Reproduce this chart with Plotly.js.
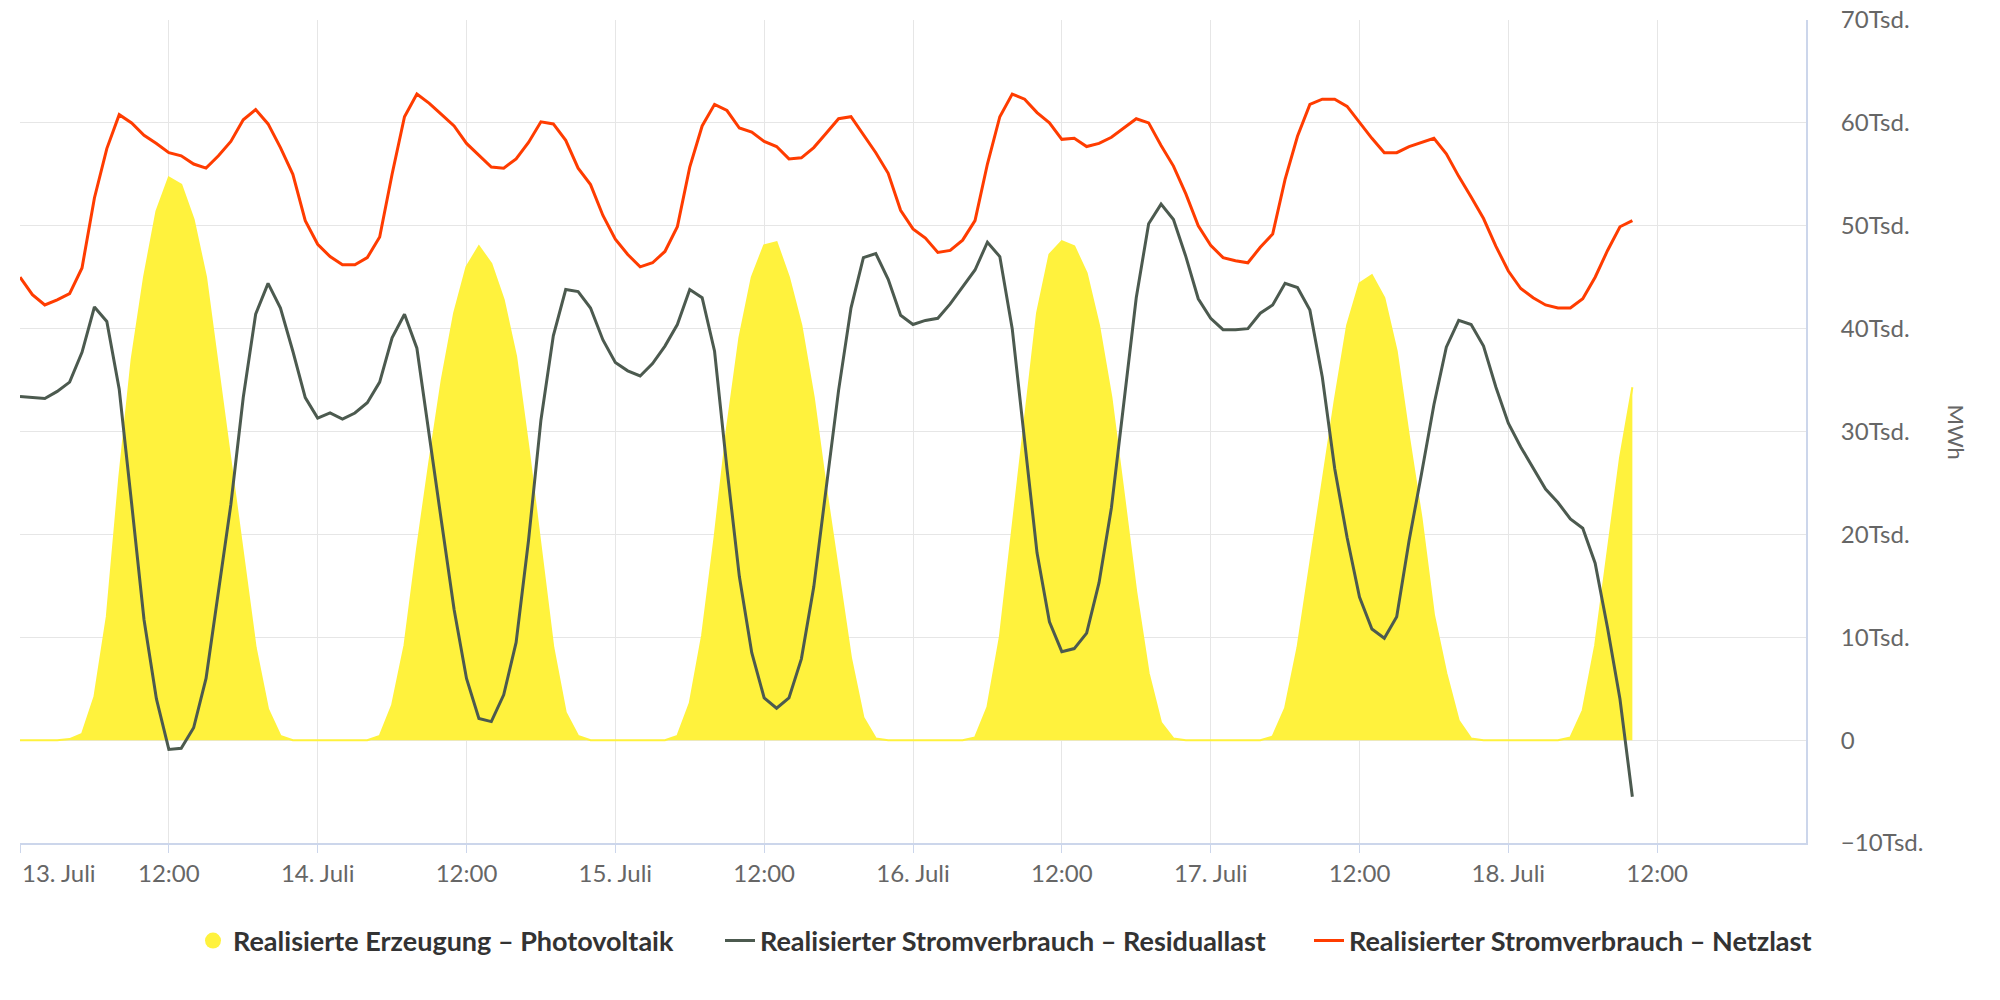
<!DOCTYPE html>
<html>
<head>
<meta charset="utf-8">
<script src="https://cdn.plot.ly/plotly-3.0.1.min.js"></script>
<style>
  html, body { margin: 0; padding: 0; background: white; }
  #chart { width: 2000px; height: 1000px; }
</style>
</head>
<body>
<div id="chart"></div>
<script>
// hourly values in MWh, 13. Juli 00:00 to 18. Juli 10:00
const startDay = 13;

const photovoltaik = [
  0, 0, 0, 0, 100, 600, 4200, 12000, 25500, 37000, 45000, 51400, 54700, 54000, 50600, 45000, 36000, 27000, 17500, 9000, 3000, 400, 0, 0,
  0, 0, 0, 0, 0, 400, 3400, 9200, 18500, 27000, 35000, 41500, 46000, 48000, 46300, 42800, 37300, 28400, 18400, 9000, 2700, 400, 0, 0,
  0, 0, 0, 0, 0, 400, 3600, 10200, 19700, 30300, 39100, 45000, 48100, 48400, 45000, 40300, 33300, 24400, 16400, 8000, 2200, 150, 0, 0,
  0, 0, 0, 0, 0, 250, 3200, 10000, 20500, 31300, 41500, 47200, 48500, 48000, 45400, 40300, 33300, 23900, 14400, 6500, 1700, 150, 0, 0,
  0, 0, 0, 0, 0, 350, 3100, 9000, 16900, 24900, 33000, 40300, 44400, 45200, 43000, 37800, 29400, 21600, 12200, 6500, 1900, 150, 0, 0,
  0, 0, 0, 0, 0, 250, 2900, 9200, 18400, 27400, 34300
];

const residuallast = [
  33400, 33300, 33200, 33900, 34800, 37700, 42100, 40700, 34100, 23000, 11700, 4000, -900, -800, 1200, 6000, 14400, 22900, 33300, 41400, 44400, 42000, 37800, 33300,
  31300, 31800, 31200, 31800, 32800, 34800, 39100, 41400, 38100, 29400, 21100, 12700, 6000, 2100, 1800, 4400, 9500, 19400, 31100, 39300, 43800, 43600, 42000, 38900,
  36700, 35900, 35400, 36600, 38300, 40400, 43800, 43000, 37800, 26400, 15900, 8500, 4100, 3100, 4100, 7900, 14900, 24500, 34000, 42000, 46900, 47300, 44800, 41300,
  40400, 40800, 41000, 42400, 44000, 45700, 48400, 47000, 40000, 29000, 18200, 11500, 8600, 8900, 10400, 15300, 22600, 32800, 43000, 50200, 52100, 50600, 47000, 42900,
  41000, 39900, 39900, 40000, 41500, 42300, 44400, 44000, 41800, 35300, 26400, 19700, 13900, 10800, 9900, 12000, 19400, 25900, 32600, 38200, 40800, 40400, 38300, 34300,
  30800, 28500, 26500, 24400, 23100, 21500, 20600, 17200, 10900, 4000, -5500
];

const netzlast = [
  45000, 43300, 42300, 42800, 43400, 45900, 52700, 57500, 60800, 60000, 58800, 58000, 57100, 56800, 56000, 55600, 56800, 58200, 60300, 61300, 59900, 57600, 55000, 50500,
  48200, 47000, 46200, 46200, 46900, 48900, 55000, 60600, 62800, 61900, 60800, 59700, 58000, 56800, 55700, 55600, 56500, 58100, 60100, 59900, 58300, 55600, 54000, 51000,
  48700, 47200, 46000, 46400, 47500, 49900, 55700, 59700, 61800, 61200, 59500, 59100, 58200, 57700, 56500, 56600, 57600, 59000, 60400, 60600, 58800, 57100, 55100, 51500,
  49700, 48800, 47400, 47600, 48600, 50500, 56000, 60600, 62800, 62300, 61000, 60000, 58400, 58500, 57700, 58000, 58600, 59500, 60400, 60000, 57800, 55800, 53100, 50000,
  48100, 46900, 46600, 46400, 47900, 49200, 54500, 58700, 61800, 62300, 62300, 61600, 60000, 58500, 57100, 57100, 57700, 58100, 58500, 57000, 54800, 52800, 50700, 48000,
  45600, 43900, 43000, 42300, 42000, 42000, 42900, 45000, 47600, 49900, 50500
];

const seriesNames = [
  'Realisierte Erzeugung – Photovoltaik',
  'Realisierter Stromverbrauch – Residuallast',
  'Realisierter Stromverbrauch – Netzlast'
];

const xTickVals = [
  '2020-07-13 00:00', '2020-07-13 12:00', '2020-07-14 00:00', '2020-07-14 12:00',
  '2020-07-15 00:00', '2020-07-15 12:00', '2020-07-16 00:00', '2020-07-16 12:00',
  '2020-07-17 00:00', '2020-07-17 12:00', '2020-07-18 00:00', '2020-07-18 12:00'
];
const xTickText = [
  '', '12:00', '14. Juli', '12:00', '15. Juli', '12:00',
  '16. Juli', '12:00', '17. Juli', '12:00', '18. Juli', '12:00'
];
const firstDayLabel = '13. Juli';

const yTickVals = [-10000, 0, 10000, 20000, 30000, 40000, 50000, 60000, 70000];
const yTickText = ['−10Tsd.', '0', '10Tsd.', '20Tsd.', '30Tsd.', '40Tsd.', '50Tsd.', '60Tsd.', '70Tsd.'];

// timestamps for the hourly points
const pad = n => String(n).padStart(2, '0');
const times = photovoltaik.map((_, i) =>
  '2020-07-' + pad(startDay + Math.floor(i / 24)) + ' ' + pad(i % 24) + ':00');

const yellow = '#fff23d';
const gray = '#4c5a4f';
const red = '#ff3c00';
const labelFont = { family: 'Lato, sans-serif', size: 24, color: '#666666' };

const traces = [
  {
    x: times, y: photovoltaik, type: 'scatter', mode: 'lines',
    fill: 'tozeroy', fillcolor: yellow,
    line: { color: yellow, width: 2 },
    showlegend: false, hoverinfo: 'skip'
  },
  {
    // legend entry only (round marker like the original)
    x: [null], y: [null], type: 'scatter', mode: 'markers',
    name: seriesNames[0], legend: 'legend',
    marker: { symbol: 'circle', size: 23, color: yellow }
  },
  {
    x: times, y: residuallast, type: 'scatter', mode: 'lines',
    name: seriesNames[1], legend: 'legend2',
    line: { color: gray, width: 3 }
  },
  {
    x: times, y: netzlast, type: 'scatter', mode: 'lines',
    name: seriesNames[2], legend: 'legend3',
    line: { color: red, width: 3 }
  }
];

// one legend box per series so the gaps between entries match the original
const legendBox = x => ({
  orientation: 'h',
  xref: 'container',
  yref: 'container',
  x: x,
  xanchor: 'left',
  y: 0.059,
  yanchor: 'middle',
  bgcolor: 'rgba(0,0,0,0)',
  font: { family: 'Lato, sans-serif', size: 27, color: '#333333', weight: 'bold' },
  itemwidth: 30
});

const layout = {
  width: 2000,
  height: 1000,
  paper_bgcolor: 'white',
  plot_bgcolor: 'white',
  margin: { t: 20, b: 157, l: 20, r: 194 },
  hovermode: false,
  font: labelFont,
  xaxis: {
    type: 'date',
    range: ['2020-07-13 00:00', '2020-07-19 00:00'],
    tickmode: 'array',
    tickvals: xTickVals,
    ticktext: xTickText,
    showgrid: true,
    gridcolor: '#e6e6e6',
    gridwidth: 1,
    showline: true,
    linecolor: '#ccd6eb',
    linewidth: 2,
    ticks: 'outside',
    ticklen: 8,
    tickcolor: '#ccd6eb',
    ticklabelstandoff: 0,
    tickfont: labelFont,
    zeroline: false,
    fixedrange: true
  },
  yaxis: {
    side: 'right',
    range: [-10000, 70000],
    tickmode: 'array',
    tickvals: yTickVals,
    ticktext: yTickText,
    showgrid: true,
    gridcolor: '#e6e6e6',
    gridwidth: 1,
    showline: true,
    linecolor: '#ccd6eb',
    linewidth: 2,
    zeroline: false,
    ticks: '',
    ticklabelstandoff: 28,
    tickfont: labelFont,
    fixedrange: true
  },
  legend: legendBox(0.0965),
  legend2: legendBox(0.36),
  legend3: legendBox(0.6545),
  annotations: [
    {
      text: 'MWh', xref: 'paper', yref: 'paper', x: 1.084, y: 0.5,
      xanchor: 'center', yanchor: 'middle', textangle: 90, showarrow: false,
      font: { family: 'Lato, sans-serif', size: 22, color: '#666666' }
    },
    {
      text: firstDayLabel, xref: 'paper', yref: 'paper', x: 0, y: 0,
      xanchor: 'left', yanchor: 'top', yshift: -13, showarrow: false,
      font: labelFont
    }
  ]
};

Plotly.newPlot('chart', traces, layout, { displayModeBar: false, staticPlot: true });
</script>
</body>
</html>
